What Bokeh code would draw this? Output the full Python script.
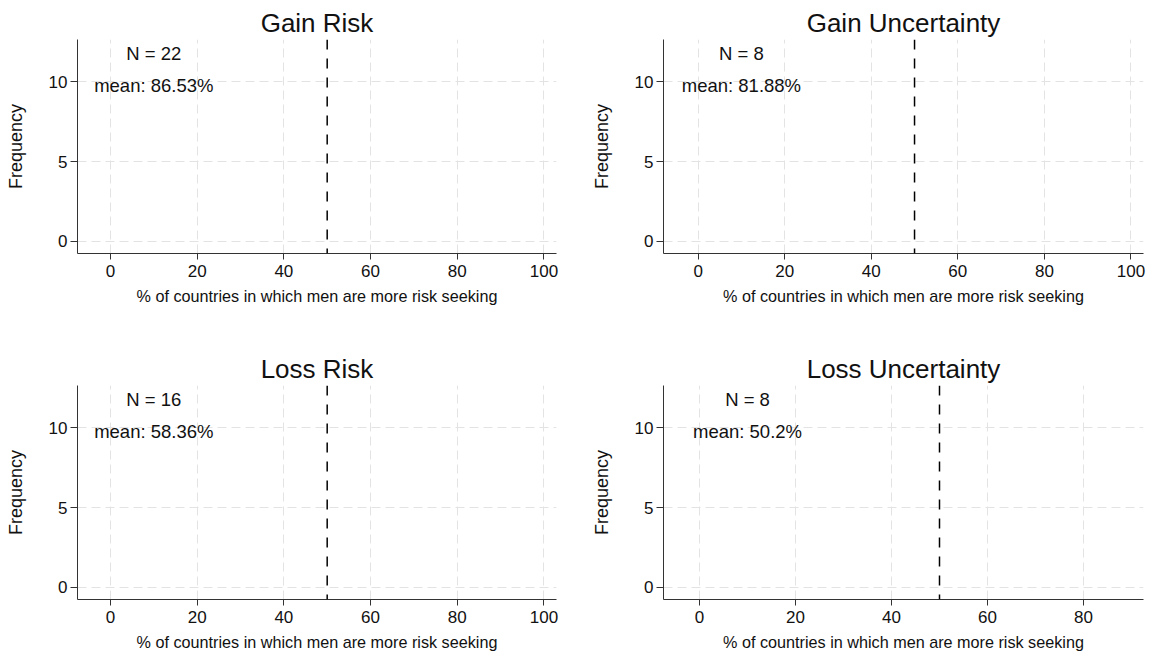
from bokeh.plotting import figure
from bokeh.layouts import column, row
from bokeh.models import Range1d, FixedTicker, Span, Label
from bokeh.embed import file_html
from bokeh.resources import INLINE

# Panel data
titles = ["Gain Risk", "Gain Uncertainty", "Loss Risk", "Loss Uncertainty"]
n_obs = [22, 8, 16, 8]
mean_pct = [86.53, 81.88, 58.36, 50.2]
ref_value = 50
x_ticks = [[0, 20, 40, 60, 80, 100], [0, 20, 40, 60, 80, 100],
           [0, 20, 40, 60, 80, 100], [0, 20, 40, 60, 80]]
x_ranges = [(-7.6, 102.9), (-8.0, 102.9), (-7.6, 102.9), (-7.5, 92.5)]
y_ticks = [0, 5, 10]
y_range = (-0.77, 12.66)

FONT = "Liberation Sans"
GRID = "#e3e3e3"
AXIS = "#333333"
INK = "#111111"


def panel(i, width, height, left, right, top, bottom):
    p = figure(width=width, height=height, output_backend="svg",
               toolbar_location=None, title=titles[i],
               x_range=Range1d(*x_ranges[i]), y_range=Range1d(*y_range),
               min_border_left=left, min_border_right=right,
               min_border_top=top, min_border_bottom=bottom)
    p.outline_line_color = None
    p.background_fill_color = "white"
    p.border_fill_color = "white"

    p.title.align = "center"
    p.title.text_font = FONT
    p.title.text_font_size = "26px"
    p.title.text_font_style = "normal"
    p.title.text_color = INK
    p.title.standoff = 3

    p.xaxis.ticker = FixedTicker(ticks=x_ticks[i])
    p.yaxis.ticker = FixedTicker(ticks=y_ticks)
    p.xaxis.axis_label = "% of countries in which men are more risk seeking"
    p.yaxis.axis_label = "Frequency"
    for ax in (p.xaxis, p.yaxis):
        ax.axis_line_color = AXIS
        ax.major_tick_line_color = AXIS
        ax.minor_tick_line_color = None
        ax.major_tick_in = 0
        ax.major_label_text_font = FONT
        ax.major_label_text_font_size = "17px"
        ax.major_label_text_color = INK
        ax.axis_label_text_font = FONT
        ax.axis_label_text_font_style = "normal"
        ax.axis_label_text_color = INK
    p.xaxis.axis_label_text_font_size = "16.2px"
    p.yaxis.axis_label_text_font_size = "18px"
    p.xaxis.major_tick_out = 6
    p.yaxis.major_tick_out = 7
    p.xaxis.major_label_standoff = 5
    p.yaxis.major_label_standoff = 3
    p.xaxis.axis_label_standoff = 7
    p.yaxis.axis_label_standoff = 20

    for g in (p.xgrid, p.ygrid):
        g.grid_line_color = GRID
        g.grid_line_width = 1
        g.grid_line_dash = "9 5"
    p.xgrid.ticker = FixedTicker(ticks=x_ticks[i])
    p.ygrid.ticker = FixedTicker(ticks=y_ticks)

    p.add_layout(Span(location=ref_value, dimension="height",
                      line_color="black", line_width=1.5, line_dash="10 9"))

    p.add_layout(Label(x=10, y=11.8, text=f"N = {n_obs[i]}",
                       text_align="center", text_baseline="middle",
                       text_font=FONT, text_font_size="18.5px",
                       text_color=INK))
    p.add_layout(Label(x=10, y=9.8, text=f"mean: {mean_pct[i]:g}%",
                       text_align="center", text_baseline="middle",
                       text_font=FONT, text_font_size="18.5px",
                       text_color=INK))
    return p


p1 = panel(0, 575, 345, 77, 19, 39, 92)
p2 = panel(1, 576, 345, 88, 8, 39, 92)
p3 = panel(2, 575, 315, 77, 19, 40, 61)
p4 = panel(3, 576, 315, 88, 8, 40, 61)

layout = column(row(p1, p2), row(p3, p4))

open("out.html", "w").write(file_html(layout, INLINE))
